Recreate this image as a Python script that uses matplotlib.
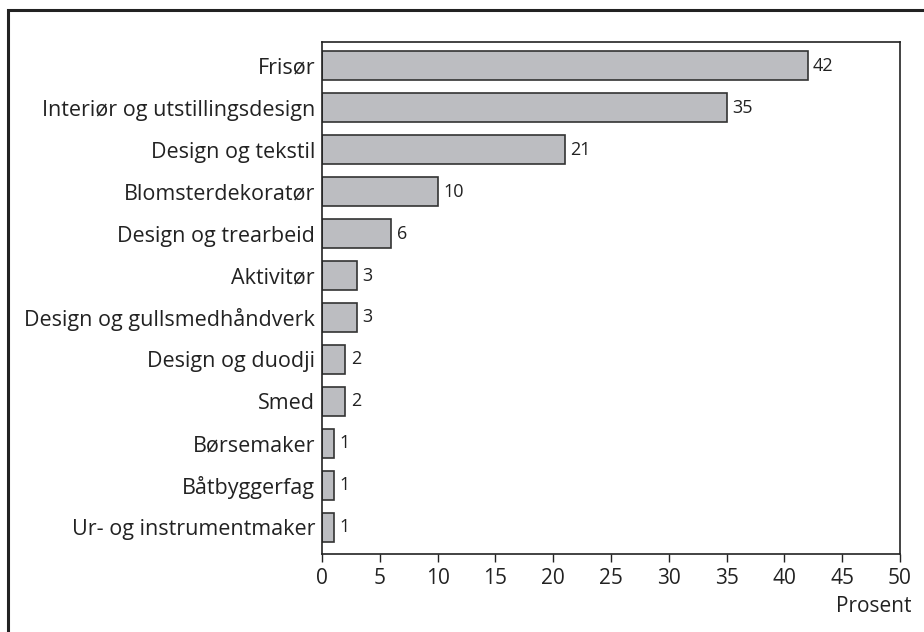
import matplotlib.pyplot as plt
from matplotlib.patches import Rectangle

categories = ["Frisør", "Interiør og utstillingsdesign", "Design og tekstil",
              "Blomsterdekoratør", "Design og trearbeid", "Aktivitør",
              "Design og gullsmedhåndverk", "Design og duodji", "Smed",
              "Børsemaker", "Båtbyggerfag", "Ur- og instrumentmaker"]
values = [42, 35, 21, 10, 6, 3, 3, 2, 2, 1, 1, 1]
xticks = [0, 5, 10, 15, 20, 25, 30, 35, 40, 45, 50]

plt.rcParams['font.family'] = ['Open Sans', 'DejaVu Sans']

fig = plt.figure(figsize=(9.24, 6.32), dpi=100)
W, H = 924, 632

# outer frame (only left and top edges visible in the crop)
fig.patches.append(Rectangle((8 / W, -0.1), 1.2, (H - 10) / H + 0.1,
                             transform=fig.transFigure, fill=False,
                             edgecolor="#222222", linewidth=2.2))

ax = fig.add_axes([322 / W, 1 - 554 / H, (900 - 322) / W, (554 - 42) / H])
pos = list(range(len(categories)))
ax.barh(pos, values, height=0.69, color="#bcbdc1", edgecolor="#333333", linewidth=1.2)

for p, v in zip(pos, values):
    ax.annotate(str(v), (v, p), xytext=(4, 0), textcoords="offset points",
                va="center", ha="left", fontsize=13, color="#222222")

ax.set_xlim(0, 50)
ax.set_ylim(11.64, -0.57)
ax.set_xticks(xticks)
ax.set_yticks(pos)
ax.set_yticklabels(categories, fontsize=15.5)
ax.tick_params(axis="x", labelsize=15, length=6, width=1, pad=4, colors="#222222")
ax.tick_params(axis="y", length=0, pad=5, colors="#222222")
for s in ax.spines.values():
    s.set_linewidth(1.2)
    s.set_color("#222222")

fig.text(912 / W, 1 - 606 / H, "Prosent", ha="right", va="center", fontsize=15, color="#222222")

fig.savefig("out.png", dpi=100)
